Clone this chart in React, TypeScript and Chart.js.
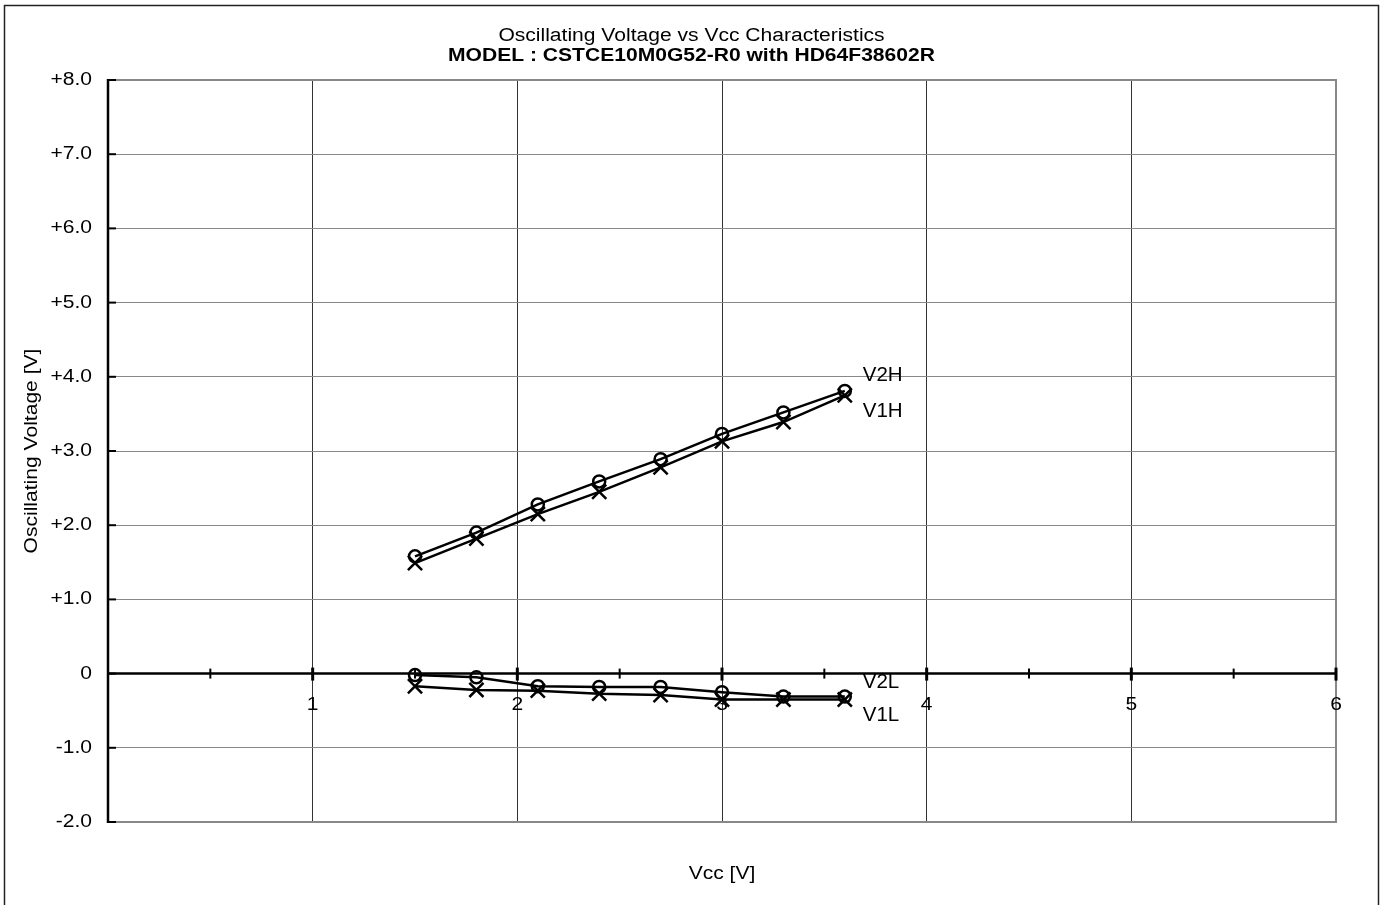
import React, { useEffect, useRef } from "react";
import { Chart, registerables } from "chart.js";

Chart.register(...registerables);

// ---- data ----
const vcc = [1.5, 1.8, 2.1, 2.4, 2.7, 3.0, 3.3, 3.6];
const v2h = [1.58, 1.9, 2.28, 2.59, 2.89, 3.23, 3.52, 3.81];
const v1h = [1.49, 1.82, 2.15, 2.45, 2.78, 3.13, 3.39, 3.75];
const v2l = [-0.02, -0.05, -0.17, -0.18, -0.18, -0.25, -0.31, -0.31];
const v1l = [-0.17, -0.22, -0.23, -0.27, -0.29, -0.35, -0.35, -0.35];
const seriesNames = ["V2H", "V1H", "V2L", "V1L"];
const titleLine1 = "Oscillating Voltage vs Vcc Characteristics";
const titleLine2 = "MODEL : CSTCE10M0G52-R0 with HD64F38602R";
const xTitle = "Vcc [V]";
const yTitle = "Oscillating Voltage [V]";
const xRange = [0, 6];
const yRange = [-2, 8];

const FONT = '18px "Liberation Sans", Arial, sans-serif';
const BOLD = 'bold 18px "Liberation Sans", Arial, sans-serif';
const LABEL_FONT = '20.5px "Liberation Sans", Arial, sans-serif';
const SX = 1.17;

function text(
  ctx: CanvasRenderingContext2D,
  s: string,
  x: number,
  y: number,
  align: CanvasTextAlign,
  font = FONT,
  rotate = 0,
  sx = SX
) {
  ctx.save();
  ctx.translate(x, y);
  if (rotate) ctx.rotate(rotate);
  ctx.scale(sx, 1);
  ctx.font = font;
  ctx.fillStyle = "#000";
  ctx.textAlign = align;
  ctx.textBaseline = "middle";
  ctx.fillText(s, 0, 0);
  ctx.restore();
}

const decorPlugin = {
  id: "decor",
  beforeDraw(chart: any) {
    const ctx = chart.ctx as CanvasRenderingContext2D;
    ctx.save();
    ctx.fillStyle = "#fff";
    ctx.fillRect(0, 0, chart.width, chart.height);
    ctx.strokeStyle = "#222";
    ctx.lineWidth = 1.5;
    ctx.strokeRect(4.5, 5.5, chart.width - 9, chart.height + 10);
    ctx.restore();
  },
  beforeDatasetsDraw(chart: any) {
    const ctx = chart.ctx as CanvasRenderingContext2D;
    const { left, right, top, bottom } = chart.chartArea;
    const xs = chart.scales.x;
    const ys = chart.scales.y;
    const zeroY = ys.getPixelForValue(0);
    ctx.save();
    // plot border (top, right, bottom)
    ctx.strokeStyle = "#888";
    ctx.lineWidth = 2;
    ctx.beginPath();
    ctx.moveTo(left, top);
    ctx.lineTo(right, top);
    ctx.lineTo(right, bottom);
    ctx.lineTo(left, bottom);
    ctx.stroke();
    // y axis line
    ctx.strokeStyle = "#000";
    ctx.lineWidth = 2.5;
    ctx.beginPath();
    ctx.moveTo(left, top - 1);
    ctx.lineTo(left, bottom + 1);
    ctx.stroke();
    // x axis line at zero
    ctx.beginPath();
    ctx.moveTo(left, zeroY);
    ctx.lineTo(right, zeroY);
    ctx.stroke();
    // y ticks (inward) and labels
    ctx.lineWidth = 2;
    ys.ticks.forEach((t: any) => {
      const py = ys.getPixelForValue(t.value);
      ctx.beginPath();
      ctx.moveTo(left, py);
      ctx.lineTo(left + 8, py);
      ctx.stroke();
      const v = t.value;
      const lbl = v > 0 ? "+" + v.toFixed(1) : v === 0 ? "0" : v.toFixed(1);
      text(ctx, lbl, left - 16, py, "right");
    });
    // x ticks across zero line
    xs.ticks.forEach((t: any) => {
      const px = xs.getPixelForValue(t.value);
      const major = Number.isInteger(t.value);
      if (t.value === 0) return;
      ctx.lineWidth = major ? 3 : 2;
      ctx.beginPath();
      ctx.moveTo(px, zeroY - (major ? 6 : 5));
      ctx.lineTo(px, zeroY + (major ? 7 : 5));
      ctx.stroke();
      if (major) text(ctx, String(t.value), px, zeroY + 31, "center");
    });
    // titles
    const cx = chart.width / 2;
    text(ctx, titleLine1, cx, 36, "center");
    text(ctx, titleLine2, cx, 56, "center", BOLD);
    text(ctx, xTitle, (left + right) / 2, 874, "center");
    text(ctx, yTitle, 32, (top + bottom) / 2, "center", FONT, -Math.PI / 2);
    ctx.restore();
  },
  afterDatasetsDraw(chart: any) {
    const ctx = chart.ctx as CanvasRenderingContext2D;
    const xs = chart.scales.x;
    const ys = chart.scales.y;
    const dy = [-16, 16, -14, 16];
    chart.data.datasets.forEach((ds: any, i: number) => {
      const last = ds.data[ds.data.length - 1];
      const px = xs.getPixelForValue(last.x) + 18;
      const py = ys.getPixelForValue(last.y) + dy[i];
      text(ctx, seriesNames[i], px, py, "left", LABEL_FONT, 0, 1);
    });
  },
};

function series(ys: number[], circle: boolean) {
  return {
    data: vcc.map((x, i) => ({ x, y: ys[i] })),
    showLine: true,
    borderColor: "#000",
    borderWidth: 2.5,
    pointStyle: circle ? "circle" : "crossRot",
    pointRadius: circle ? 6 : 10,
    pointBorderWidth: 2.5,
    pointBorderColor: "#000",
    pointBackgroundColor: "rgba(0,0,0,0)",
    tension: 0,
  };
}

export default function App() {
  const ref = useRef<HTMLCanvasElement | null>(null);
  useEffect(() => {
    if (!ref.current) return;
    const chart = new Chart(ref.current, {
      type: "scatter",
      data: {
        datasets: [
          series(v2h, true),
          series(v1h, false),
          series(v2l, true),
          series(v1l, false),
        ] as any,
      },
      options: {
        responsive: false,
        animation: false,
        events: [],
        layout: { padding: { left: 108, top: 80, right: 47, bottom: 83 } },
        plugins: { legend: { display: false }, tooltip: { enabled: false }, title: { display: false } },
        scales: {
          x: {
            type: "linear",
            min: xRange[0],
            max: xRange[1],
            ticks: { display: false, stepSize: 0.5 },
            border: { display: false },
            grid: {
              drawTicks: false,
              color: (c: any) =>
                c.tick && Number.isInteger(c.tick.value) && c.tick.value > xRange[0] && c.tick.value < xRange[1]
                  ? "#333"
                  : "rgba(0,0,0,0)",
              lineWidth: 1,
            },
          },
          y: {
            type: "linear",
            min: yRange[0],
            max: yRange[1],
            ticks: { display: false, stepSize: 1 },
            border: { display: false },
            grid: { drawTicks: false, color: "#888", lineWidth: 1 },
          },
        },
      },
      plugins: [decorPlugin],
    });
    return () => chart.destroy();
  }, []);
  return (
    <div style={{ position: "fixed", left: 0, top: 0, width: 1383, height: 905, background: "#fff" }}>
      <canvas ref={ref} width={1383} height={905} style={{ display: "block" }} />
    </div>
  );
}
